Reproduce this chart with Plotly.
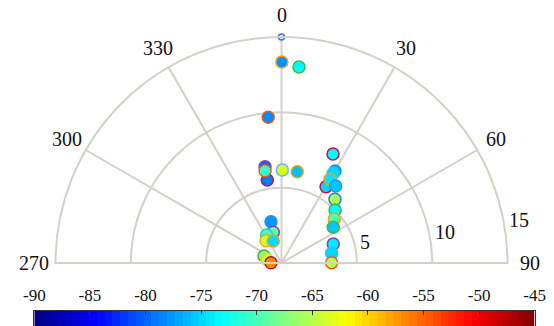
import numpy as np
import plotly.graph_objects as go

# ---------------- data ----------------
# radial distance (0-15) and bearing (deg, clockwise from north)
r_vals = [13.34, 13.06, 9.71, 6.48, 5.59, 6.22, 6.17, 6.15,
          8.00, 5.86, 7.06, 6.87, 6.42, 6.25, 5.52, 5.00, 4.56, 4.17,
          3.66, 3.39, 3.33, 2.83, 2.11, 2.10, 1.80, 1.56, 1.25, 1.01, 0.70]
theta_vals = [0.1, 5.1, 354.8, 350.3, 350.3, 349.9, 0.5, 9.8,
              25.3, 30.3, 30.2, 30.0, 30.1, 35.1, 40.0, 45.3, 50.2, 55.4,
              69.9, 79.0, 89.6, 345.7, 345.0, 332.0, 325.2, 339.6, 291.8, 284.0, 271.6]
signal_vals = [-77.8, -73.3, -78.2, -80.0, -79.0, -70.9, -63.4, -76.0,
               -73.3, -75.0, -76.9, -74.7, -74.3, -75.6, -65.6, -73.3, -69.6, -75.6,
               -74.0, -75.0, -65.2, -77.8, -68.7, -70.5, -64.3, -74.7, -67.0, -64.3, -56.8]
edge_colors = ["#f0a020", "#40b840", "#f05a20", "#8a40b0", "#b01848", "#f05a20", "#60b4ff", "#e8a800",
               "#b01848", "#b01848", "#1a8cff", "#20c8ff", "#f0a020", "#1a96ff", "#2080e0", "#40b840", "#f0a020", "#40b840",
               "#8a40b0", "#20c8ff", "#f05a20", "#1a96ff", "#8a40b0", "#30c8c8", "#e8b000", "#f0a020", "#40b040", "#c8e040", "#b01838"]

ref_r = [15]
ref_theta = [0]

# bearings 270..330 expressed as their equivalent negative angles (-90..-30)
angle_ticks = [0, 30, 60, 90, -90, -60, -30]
angle_labels = ["0", "30", "60", "90", "270", "300", "330"]
radial_ticks = [5, 10, 15]
cbar_ticks = [-90, -85, -80, -75, -70, -65, -60, -55, -50, -45]
cbar_labels = ["-90", "-85", "-80", "-75", "-70", "-65", "-60", "-55", "-50", "-45"]
cmin, cmax = -90, -45

jet = [[0.0, "rgb(0,0,128)"], [0.125, "rgb(0,0,255)"], [0.375, "rgb(0,255,255)"],
       [0.625, "rgb(255,255,0)"], [0.875, "rgb(255,0,0)"], [1.0, "rgb(128,0,0)"]]

GRID = "#d4d0c8"
FONT = "Liberation Serif"

fig = go.Figure()

fig.add_trace(go.Scatterpolar(
    r=r_vals, theta=theta_vals, mode="markers",
    marker=dict(size=12, color=signal_vals, colorscale=jet, cmin=cmin, cmax=cmax,
                showscale=False, line=dict(color=edge_colors, width=1.5)),
    cliponaxis=False, showlegend=False))

fig.add_trace(go.Scatterpolar(
    r=ref_r, theta=ref_theta, mode="markers",
    marker=dict(size=6, color="#cfe6ff", line=dict(color="#3a78c0", width=1.5)),
    cliponaxis=False, showlegend=False))

# colour bar as a heatmap strip
n = 64
edges = np.linspace(cmin, cmax, n + 1)
centers = (edges[:-1] + edges[1:]) / 2
fig.add_trace(go.Heatmap(x=centers, y=[0], z=[centers], colorscale=jet,
                         zmin=cmin, zmax=cmax, showscale=False, hoverinfo="skip"))

W, H = 554, 326
cx, cy, R = 281.5, 263.0, 226.0

fig.update_layout(
    width=W, height=H,
    margin=dict(l=0, r=0, t=0, b=0, autoexpand=False),
    paper_bgcolor="white", plot_bgcolor="white",
    polar=dict(
        domain=dict(x=[(cx - R) / W, (cx + R) / W], y=[(H - cy) / H, (H - cy + R) / H]),
        sector=[0, 180],
        bgcolor="white",
        angularaxis=dict(rotation=90, direction="clockwise",
                         tickmode="array", tickvals=angle_ticks, ticktext=angle_labels,
                         showticklabels=False, ticks="",
                         showgrid=True, gridcolor=GRID, gridwidth=2,
                         showline=True, linecolor=GRID, linewidth=2),
        radialaxis=dict(range=[0, 15], tickmode="array", tickvals=radial_ticks,
                        showticklabels=False, ticks="", showline=False,
                        showgrid=True, gridcolor=GRID, gridwidth=2),
    ),
    xaxis=dict(domain=[34.3 / W, 534.7 / W], range=[cmin, cmax], side="top",
               automargin=False,
               tickmode="array", tickvals=cbar_ticks, ticktext=cbar_labels,
               ticks="inside", ticklen=4,
               tickcolor="#333", showline=True, linecolor="#333", linewidth=1,
               showgrid=False, zeroline=False, ticklabelstandoff=2,
               tickfont=dict(family=FONT, size=17, color="#111"), fixedrange=True),
    yaxis=dict(domain=[0, (H - 311) / H], range=[-0.5, 0.5], showticklabels=False,
               automargin=False,
               ticks="", showgrid=False, zeroline=False, showline=True, mirror=True,
               linecolor="#333", linewidth=1, fixedrange=True),
)

# angular labels just outside the outer ring
label_gap = 22.0
for a, txt in zip(angle_ticks, angle_labels):
    rad = np.deg2rad(a)
    px = cx + (R + label_gap) * np.sin(rad)
    py = cy - (R + label_gap) * np.cos(rad)
    fig.add_annotation(x=px / W, y=1 - py / H, xref="paper", yref="paper",
                       text=txt, showarrow=False, xanchor="center", yanchor="middle",
                       font=dict(family=FONT, size=20, color="#111"))

# radial tick labels placed just outside each ring
label_px = {5: (365.0, 241.7), 10: (445.0, 231.7), 15: (519.0, 220.0)}
for v in radial_ticks:
    px, py = label_px[v]
    fig.add_annotation(x=px / W, y=1 - py / H, xref="paper", yref="paper",
                       text=str(v), showarrow=False, xanchor="center", yanchor="middle",
                       font=dict(family=FONT, size=20, color="#111"))

fig.write_html("out.html", config={"displayModeBar": False},
               post_script="document.body.style.margin='0px';")
